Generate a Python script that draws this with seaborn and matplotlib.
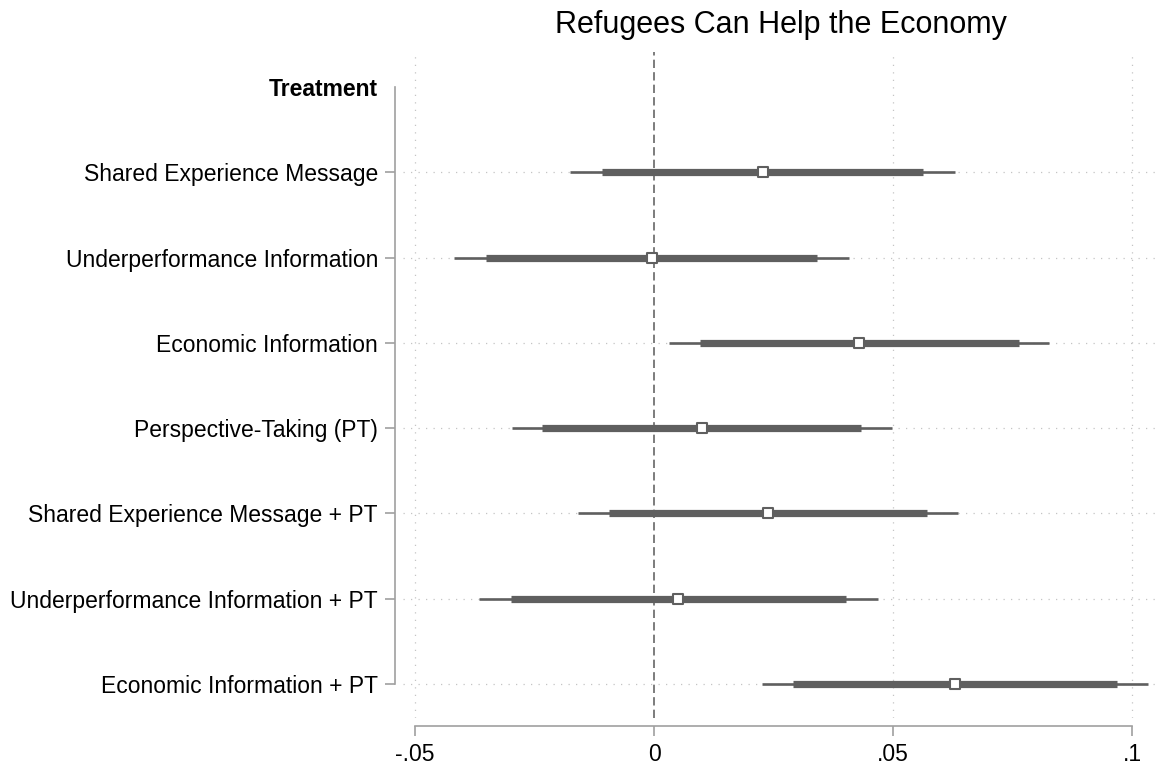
import matplotlib
matplotlib.use("Agg")
import matplotlib.pyplot as plt
import numpy as np
import pandas as pd
import seaborn as sns

# coefficient estimates
treatments = [
    "Shared Experience Message",
    "Underperformance Information",
    "Economic Information",
    "Perspective-Taking (PT)",
    "Shared Experience Message + PT",
    "Underperformance Information + PT",
    "Economic Information + PT",
]
estimates = [0.0227, -0.0005, 0.0429, 0.0100, 0.0238, 0.0051, 0.0630]
ci90_lo = [-0.0109, -0.0352, 0.0096, -0.0234, -0.0094, -0.0299, 0.0290]
ci90_hi = [0.0563, 0.0341, 0.0763, 0.0432, 0.0571, 0.0402, 0.0969]
ci95_lo = [-0.0176, -0.0418, 0.0032, -0.0298, -0.0158, -0.0366, 0.0225]
ci95_hi = [0.0630, 0.0408, 0.0827, 0.0497, 0.0635, 0.0469, 0.1034]

header = "Treatment"
x_ticks = [-0.05, 0, 0.05, 0.1]
x_ticklabels = ["-.05", "0", ".05", ".1"]
title = "Refugees Can Help the Economy"

df = pd.DataFrame({
    "treatment": treatments,
    "pos": np.arange(1, len(treatments) + 1),
    "est": estimates,
    "lo90": ci90_lo, "hi90": ci90_hi,
    "lo95": ci95_lo, "hi95": ci95_hi,
})

sns.set_theme(style="white")
plt.rcParams["font.family"] = ["Liberation Sans", "DejaVu Sans"]

W, H = 1160, 774
fig = plt.figure(figsize=(W / 100, H / 100), dpi=100)
ax = fig.add_axes([403 / W, 1 - 718 / H, (1158 - 403) / W, (718 - 52) / H])

bar_col = "#5f5f5f"
grid_col = "#c4c4c4"
axis_col = "#a0a0a0"

# spines first: moving a spine resets the ticks
for side in ["top", "right"]:
    ax.spines[side].set_visible(False)
ax.spines["left"].set_position(("outward", 6))
ax.spines["bottom"].set_position(("outward", 6))
for side in ["left", "bottom"]:
    ax.spines[side].set_color(axis_col)
    ax.spines[side].set_linewidth(1.2)

# grid: horizontal dotted at each row, vertical dotted at non-zero ticks
for p in df["pos"]:
    ax.axhline(p, color=grid_col, lw=0.9, ls=(0, (1, 5)), zorder=0)
for xt in x_ticks:
    if xt != 0:
        ax.axvline(xt, color=grid_col, lw=0.9, ls=(0, (1, 5)), zorder=0)
ax.axvline(0, color="#666666", lw=1.2, ls=(0, (5, 2.5)), zorder=1)

# confidence intervals
ax.hlines(df["pos"], df["lo95"], df["hi95"], color=bar_col, lw=1.9,
          capstyle="butt", zorder=2)
ax.hlines(df["pos"], df["lo90"], df["hi90"], color=bar_col, lw=5.2,
          capstyle="butt", zorder=3)

# point estimates
sns.scatterplot(data=df, x="est", y="pos", marker="s", s=45, color="white",
                edgecolor=bar_col, linewidth=1.5, zorder=4, ax=ax, legend=False)

ax.set_xlim(-0.0525, 0.1054)
ax.set_ylim(len(treatments) + 0.4, -0.41)
ax.spines["left"].set_bounds(0, len(treatments))
ax.spines["bottom"].set_bounds(x_ticks[0], x_ticks[-1])

ax.set_xlabel("")
ax.set_ylabel("")

ax.tick_params(axis="y", direction="out", length=7, width=1.2, color=axis_col,
               pad=5, left=True, labelsize=16.5, labelcolor="black")
ax.tick_params(axis="x", direction="out", length=7, width=1.2, color=axis_col,
               pad=5, bottom=True, labelsize=16.5, labelcolor="black")

ax.set_yticks(np.arange(0, len(treatments) + 1))
ax.set_yticklabels([header] + treatments)
ax.get_yticklabels()[0].set_fontweight("bold")
ax.yaxis.get_major_ticks()[0].tick1line.set_visible(False)

ax.set_xticks(x_ticks)
ax.set_xticklabels(x_ticklabels)

ax.set_title(title, fontsize=22, pad=14, color="black")

plt.savefig("out.png", dpi=100)
plt.close()
